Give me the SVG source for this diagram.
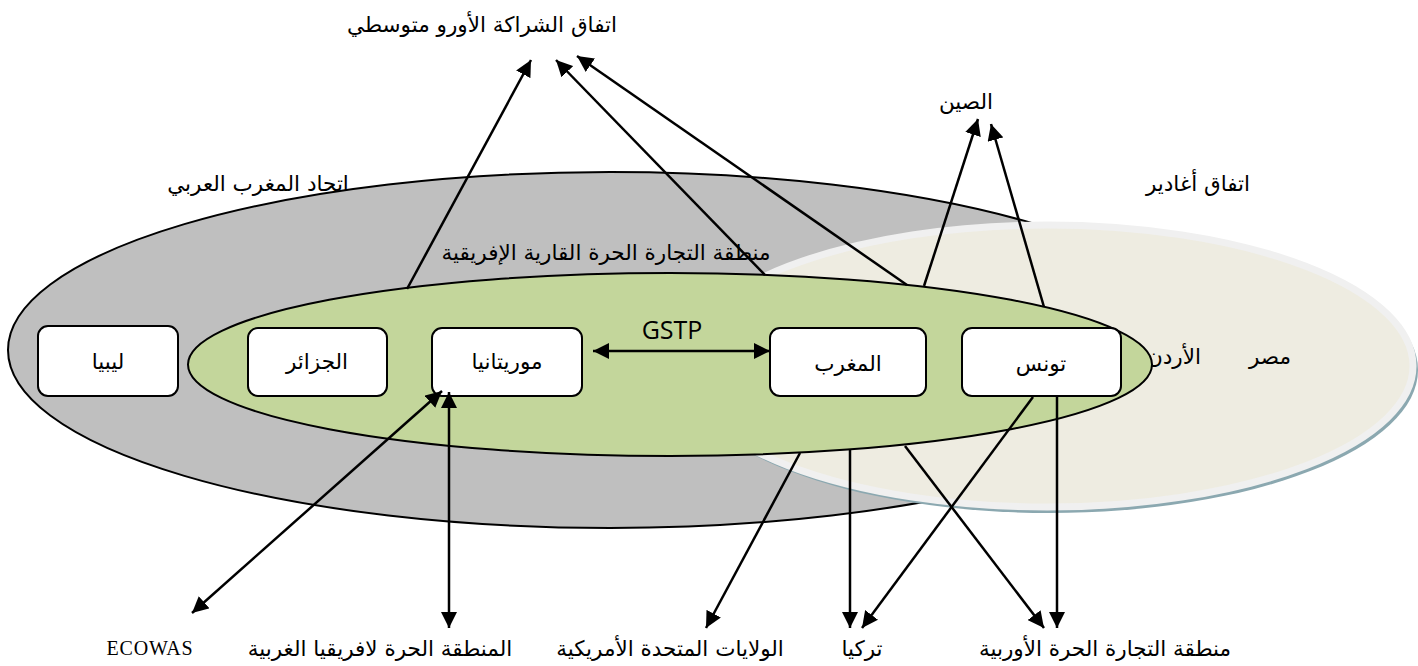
<svg xmlns="http://www.w3.org/2000/svg" width="1418" height="666" viewBox="0 0 1418 666">
<defs>
<marker id="ah" viewBox="0 0 10 10" refX="10" refY="5" markerWidth="6.5" markerHeight="6.5" orient="auto-start-reverse" markerUnits="strokeWidth">
<path d="M0,0 L10,5 L0,10 Z" fill="#000"/>
</marker>
<style>
.ar{font-family:"DejaVu Sans","Noto Sans",sans-serif;font-size:21.5px;fill:#000;text-anchor:middle}
.lat{fill:#000;text-anchor:middle}
.box{fill:#fff;stroke:#000;stroke-width:2}
.con{stroke:#000;stroke-width:2.5;fill:none;marker-end:url(#ah)}
.dbl{marker-start:url(#ah)}
</style>
</defs>
<rect width="1418" height="666" fill="#fff"/>
<g id="maghreb-union">
<ellipse cx="610" cy="350" rx="602" ry="178" fill="#bfbfbf" stroke="#000" stroke-width="2"/>
<text class="ar" x="258" y="191">اتحاد المغرب العربي</text>
</g>
<g id="agadir">
<ellipse cx="1050" cy="370" rx="368" ry="143" fill="#8ba8b0"/>
<ellipse cx="1047" cy="366" rx="366" ry="141" fill="#eeece1" stroke="#f0f0f0" stroke-width="7"/>
<text class="ar" x="1198" y="191">اتفاق أغادير</text>
<text class="ar" x="1270" y="364">مصر</text>
<text class="ar" x="1174" y="364">الأردن</text>
</g>
<g id="afcfta">
<ellipse cx="670" cy="364.5" rx="482" ry="91.5" fill="#c3d69b" stroke="#000" stroke-width="2"/>
<text class="ar" x="606" y="260">منطقة التجارة الحرة القارية الإفريقية</text>
</g>
<g id="libya"><rect class="box" x="38" y="326" width="140" height="70" rx="10"/><text class="ar" x="108" y="369">ليبيا</text></g>
<g id="algeria"><rect class="box" x="248" y="328" width="139" height="68" rx="10"/><text class="ar" x="317" y="369">الجزائر</text></g>
<g id="mauritania"><rect class="box" x="432" y="328" width="150" height="68" rx="10"/><text class="ar" x="507" y="369">موريتانيا</text></g>
<g id="morocco"><rect class="box" x="770" y="328" width="156" height="68" rx="10"/><text class="ar" x="848" y="371">المغرب</text></g>
<g id="tunisia"><rect class="box" x="962" y="328" width="159" height="68" rx="10"/><text class="ar" x="1041" y="371">تونس</text></g>
<g id="euromed"><text class="ar" x="482" y="32">اتفاق الشراكة الأورو متوسطي</text></g>
<g id="china"><text class="ar" x="966" y="109">الصين</text></g>
<g id="ecowas"><text class="lat" x="150" y="655" font-family="Liberation Serif, serif" font-size="20" letter-spacing="0.8">ECOWAS</text></g>
<g id="waemu"><text class="ar" x="380" y="656">المنطقة الحرة لافريقيا الغربية</text></g>
<g id="usa"><text class="ar" x="670" y="656">الولايات المتحدة الأمريكية</text></g>
<g id="turkey"><text class="ar" x="862" y="656">تركيا</text></g>
<g id="efta"><text class="ar" x="1105" y="656">منطقة التجارة الحرة الأوربية</text></g>
<g id="connectors">
<line class="con" x1="407" y1="289" x2="531" y2="60"/>
<line class="con" x1="765" y1="275" x2="556" y2="60"/>
<line class="con" x1="907" y1="285" x2="577" y2="56"/>
<line class="con" x1="924" y1="286" x2="978" y2="119"/>
<line class="con" x1="1044" y1="307" x2="991" y2="124"/>
<line class="con dbl" x1="593" y1="351" x2="770" y2="351"/>
<text class="lat" x="672" y="339" font-family="Open Sans, Liberation Sans, sans-serif" font-size="25">GSTP</text>
<line class="con dbl" x1="442" y1="391" x2="192" y2="613"/>
<line class="con dbl" x1="449" y1="392" x2="449" y2="628"/>
<line class="con" x1="800" y1="453" x2="706" y2="628"/>
<line class="con" x1="850" y1="450" x2="850" y2="628"/>
<line class="con" x1="1033" y1="397" x2="862" y2="628"/>
<line class="con" x1="905" y1="446" x2="1044" y2="628"/>
<line class="con" x1="1057" y1="396" x2="1057" y2="628"/>
</g>
</svg>
